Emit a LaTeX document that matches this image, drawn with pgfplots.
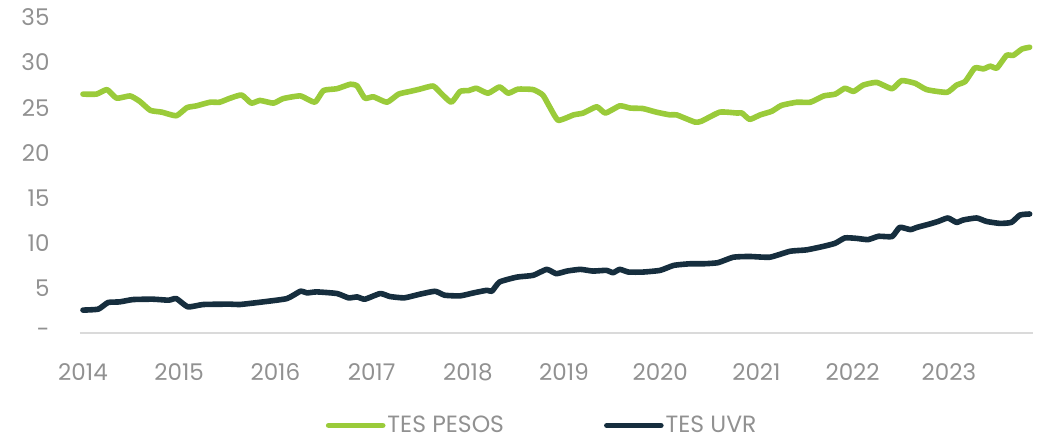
\documentclass[border=0pt]{standalone}
\usepackage{pgfplots}
\pgfplotsset{compat=1.18}
\usepackage{fontspec}
\setmainfont{Poppins}
\definecolor{tesgreen}{RGB}{154,203,58}
\definecolor{tesdark}{RGB}{22,46,62}
\definecolor{labgray}{RGB}{145,145,145}
\definecolor{axgray}{RGB}{218,218,218}
\begin{document}
\begin{tikzpicture}
\begin{axis}[
  name=ax,
  scale only axis,
  width=953bp, height=315.5bp,
  xmin=2013.969, xmax=2023.875,
  ymin=0, ymax=35,
  clip=false,
  axis lines*=left,
  y axis line style={draw=none},
  x axis line style={draw=axgray, line width=1.2bp},
  major tick length=0pt,
  xtick={2014,2015,2016,2017,2018,2019,2020,2021,2022,2023},
  xticklabels={2014,2015,2016,2017,2018,2019,2020,2021,2022,2023},
  ytick={0,5,10,15,20,25,30,35},
  yticklabels={-\hspace{15bp},5,10,15,20,25,30,35},
  /pgf/number format/assume math mode=true,
  tick label style={font=\fontsize{23bp}{27bp}\selectfont, text=labgray},
  xticklabel style={yshift=-27bp},
  yticklabel style={xshift=-27bp},
  legend columns=2,
  legend style={at={(0.485,-0.293)}, anchor=center, draw=none, fill=none,
    font=\fontsize{23.5bp}{27bp}\selectfont, text=labgray,
    /tikz/every even column/.append style={column sep=98bp}},
  legend image code/.code={\draw[#1, line cap=round] (0bp,0bp) -- (54bp,0bp);},
  every axis plot/.append style={line width=5.6bp, line join=round, line cap=round},
]
\addplot[tesgreen, smooth, tension=0.3] coordinates {
(2014.00,26.5) (2014.14,26.5) (2014.25,27.0) (2014.35,26.05) (2014.49,26.3)
(2014.59,25.7) (2014.70,24.7) (2014.82,24.5) (2014.97,24.1) (2015.08,25.0)
(2015.18,25.2) (2015.32,25.6) (2015.42,25.6) (2015.53,26.05) (2015.65,26.4)
(2015.75,25.5) (2015.84,25.8) (2015.98,25.5) (2016.08,26.0) (2016.26,26.3)
(2016.41,25.6) (2016.50,26.9) (2016.64,27.1) (2016.78,27.6) (2016.85,27.4)
(2016.93,26.05) (2017.02,26.2) (2017.16,25.6) (2017.28,26.5) (2017.40,26.8)
(2017.50,27.05) (2017.64,27.4) (2017.73,26.5) (2017.83,25.6) (2017.92,26.8)
(2018.01,26.9) (2018.09,27.15) (2018.21,26.6) (2018.33,27.3) (2018.42,26.6)
(2018.52,27.05) (2018.68,27.0) (2018.78,26.4) (2018.85,25.1) (2018.94,23.6)
(2019.10,24.2) (2019.20,24.4) (2019.34,25.1) (2019.43,24.4) (2019.58,25.2)
(2019.69,24.95) (2019.82,24.9) (2019.96,24.5) (2020.10,24.2) (2020.17,24.2)
(2020.36,23.4) (2020.43,23.5) (2020.62,24.5) (2020.80,24.4) (2020.85,24.4)
(2020.93,23.7) (2021.04,24.2) (2021.16,24.6) (2021.26,25.25) (2021.42,25.6)
(2021.56,25.6) (2021.70,26.3) (2021.82,26.5) (2021.92,27.15) (2022.01,26.8)
(2022.11,27.5) (2022.25,27.8) (2022.41,27.1) (2022.51,28.0) (2022.65,27.7)
(2022.77,27.0) (2022.98,26.7) (2023.08,27.5) (2023.17,27.9) (2023.27,29.4)
(2023.36,29.3) (2023.43,29.6) (2023.50,29.4) (2023.60,30.8) (2023.67,30.8)
(2023.76,31.5) (2023.84,31.7)
};
\addlegendentry{TES PESOS}
\addplot[tesdark, smooth, tension=0.3] coordinates {
(2014.00,2.54) (2014.16,2.65) (2014.26,3.38) (2014.38,3.45) (2014.52,3.71)
(2014.73,3.75) (2014.89,3.64) (2014.97,3.82) (2015.09,2.9) (2015.25,3.16)
(2015.53,3.2) (2015.63,3.16) (2015.87,3.45) (2016.12,3.82) (2016.26,4.63)
(2016.33,4.45) (2016.43,4.56) (2016.64,4.38) (2016.76,3.9) (2016.85,4.0)
(2016.93,3.75) (2017.09,4.38) (2017.19,4.05) (2017.34,3.9) (2017.50,4.3)
(2017.66,4.63) (2017.76,4.19) (2017.92,4.12) (2018.06,4.45) (2018.20,4.74)
(2018.25,4.63) (2018.33,5.66) (2018.51,6.2) (2018.68,6.4) (2018.82,7.06)
(2018.92,6.58) (2019.03,6.87) (2019.17,7.06) (2019.30,6.87) (2019.44,6.95)
(2019.51,6.69) (2019.58,7.06) (2019.67,6.76) (2019.82,6.76) (2020.00,6.95)
(2020.14,7.5) (2020.31,7.68) (2020.45,7.68) (2020.60,7.8) (2020.76,8.41)
(2020.93,8.49) (2021.14,8.41) (2021.35,9.07) (2021.52,9.22) (2021.70,9.62)
(2021.82,9.96) (2021.92,10.55) (2022.04,10.5) (2022.16,10.36) (2022.27,10.73)
(2022.41,10.7) (2022.49,11.72) (2022.60,11.47) (2022.67,11.72) (2022.80,12.09)
(2022.89,12.38) (2022.99,12.76) (2023.08,12.27) (2023.15,12.54) (2023.29,12.76)
(2023.39,12.38) (2023.53,12.16) (2023.65,12.27) (2023.74,13.09) (2023.84,13.2)
};
\addlegendentry{TES UVR}
\end{axis}
\path[use as bounding box] ([shift={(-80bp,-107bp)}]ax.south west) rectangle ([shift={(10bp,17.5bp)}]ax.north east);
\end{tikzpicture}
\end{document}
